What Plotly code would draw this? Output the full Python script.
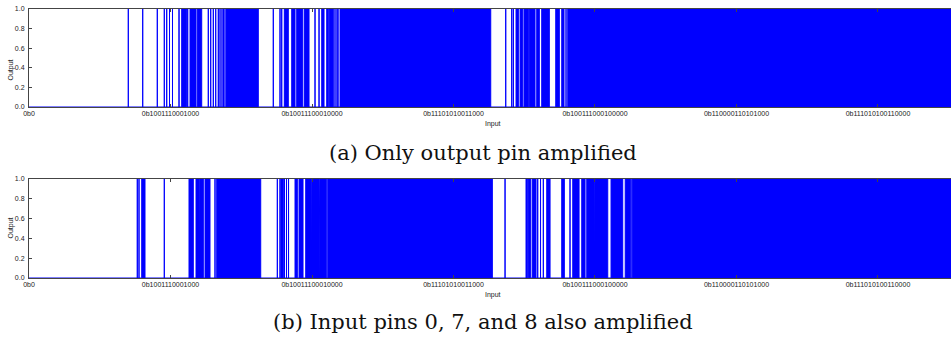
import plotly.graph_objects as go

# ---------------- data (input values, output = 1 inside intervals) ----------------
X_MAX = 32768

# (a) Only output pin amplified
a_spikes = [3509, 4018, 4534, 4781, 4866, 4965, 5071, 5301, 5608, 6336, 6421,
            6513, 6598, 6690, 6750, 6820, 6873, 6927, 6980, 8633, 8870, 8930,
            10107, 10249, 10813, 10884, 10920, 16846, 17058, 17115, 18977]
a_blocks = [(5396, 5573), (5690, 5902), (5948, 6103), (6987, 8103),
            (9022, 9163), (9284, 9400), (9460, 9672), (9729, 9895),
            (10344, 10425), (10520, 10577), (10612, 10754), (10990, 16316),
            (17210, 17292), (17352, 17447), (17493, 17645), (17680, 17881),
            (17941, 18033), (18118, 18387), (18613, 18740), (18825, 18906),
            (19037, 32768)]

# (b) Input pins 0, 7, and 8 also amplified
b_spikes = [3827, 3887, 4781, 5831, 5902, 6573, 8775, 8870, 9029, 9100, 9171,
            16822, 17976, 18076, 18175, 19118, 21274]
b_blocks = [(3983, 4099), (5654, 5806), (5926, 6018), (6043, 6160), (6220, 6396),
            (6633, 8188), (8905, 8987), (9400, 9482), (9542, 9683), (9778, 9976),
            (10001, 10249), (10273, 10507), (10556, 16373), (17563, 17609),
            (17645, 17730), (17786, 17917), (18295, 18412), (18825, 18917),
            (19214, 19437), (19532, 19649), (19709, 19978), (20002, 20451),
            (20567, 20980), (21068, 21244), (21320, 32768)]

tick_vals = [0, 5000, 10000, 15000, 20000, 25000, 30000]
tick_text = ["0b0", "0b1001110001000", "0b10011100010000", "0b11101010011000",
             "0b100111000100000", "0b110000110101000", "0b111010100110000"]
captions = ["(a) Only output pin amplified", "(b) Input pins 0, 7, and 8 also amplified"]


def step_signal(spikes, blocks):
    ivs = sorted([(s, s) for s in spikes] + list(blocks))
    xs, ys = [0], [0]
    for s, e in ivs:
        xs += [s, s, e, e]
        ys += [0, 1, 1, 0]
    if xs[-1] < X_MAX:
        xs.append(X_MAX)
        ys.append(0)
    return xs, ys


BLUE = "#0000ff"
W, H = 951, 345
fig = go.Figure()
doms = [(1 - 107 / H, 1 - 9 / H), (1 - 278 / H, 1 - 179 / H)]
cap_y = [1 - 153 / H, 1 - 322 / H]
SANS = "Liberation Sans"

for i, (sp, bl) in enumerate([(a_spikes, a_blocks), (b_spikes, b_blocks)]):
    xs, ys = step_signal(sp, bl)
    ax = "" if i == 0 else "2"
    fig.add_trace(go.Scatter(x=xs, y=ys, mode="lines", fill="tozeroy",
                             fillcolor=BLUE, line=dict(color=BLUE, width=1),
                             xaxis="x" + ax, yaxis="y" + ax, showlegend=False,
                             hoverinfo="skip"))
    common_x = dict(range=[0, 32580], domain=[29 / W, 1], tickvals=tick_vals,
                    ticktext=tick_text, ticks="inside", ticklen=3, tickcolor="#444",
                    showline=True, linecolor="#444", linewidth=1, mirror="ticks",
                    showgrid=False, zeroline=False, automargin=False,
                    tickfont=dict(family=SANS, size=7, color="#222"),
                    anchor="y" + ax)
    common_y = dict(range=[0, 1], domain=list(doms[i]),
                    tickvals=[0, 0.2, 0.4, 0.6, 0.8, 1.0],
                    ticktext=["0.0", "0.2", "0.4", "0.6", "0.8", "1.0"],
                    ticks="inside", ticklen=3, tickcolor="#444",
                    showline=True, linecolor="#444", linewidth=1,
                    showgrid=False, zeroline=False, ticklabelstandoff=2,
                    automargin=False,
                    tickfont=dict(family=SANS, size=7, color="#222"),
                    anchor="x" + ax)
    fig.update_layout({"xaxis" + ax: common_x, "yaxis" + ax: common_y})
    # axis titles
    fig.add_annotation(text="Input", xref="x" + ax, yref="paper", x=16384,
                       y=doms[i][0] - 11 / H, yanchor="top", showarrow=False,
                       font=dict(family=SANS, size=7, color="#222"))
    fig.add_annotation(text="Output", xref="paper", yref="paper", x=10 / W,
                       y=(doms[i][0] + doms[i][1]) / 2, textangle=-90,
                       showarrow=False, xanchor="center",
                       font=dict(family=SANS, size=7, color="#222"))
    fig.add_annotation(text=captions[i], xref="paper", yref="paper", x=483 / W,
                       y=cap_y[i], showarrow=False, xanchor="center", yanchor="middle",
                       font=dict(family="DejaVu Serif", size=21, color="#111"))

fig.update_layout(width=W, height=H, margin=dict(l=0, r=0, t=0, b=0),
                  plot_bgcolor="white", paper_bgcolor="white")
fig.write_html("out.html")
